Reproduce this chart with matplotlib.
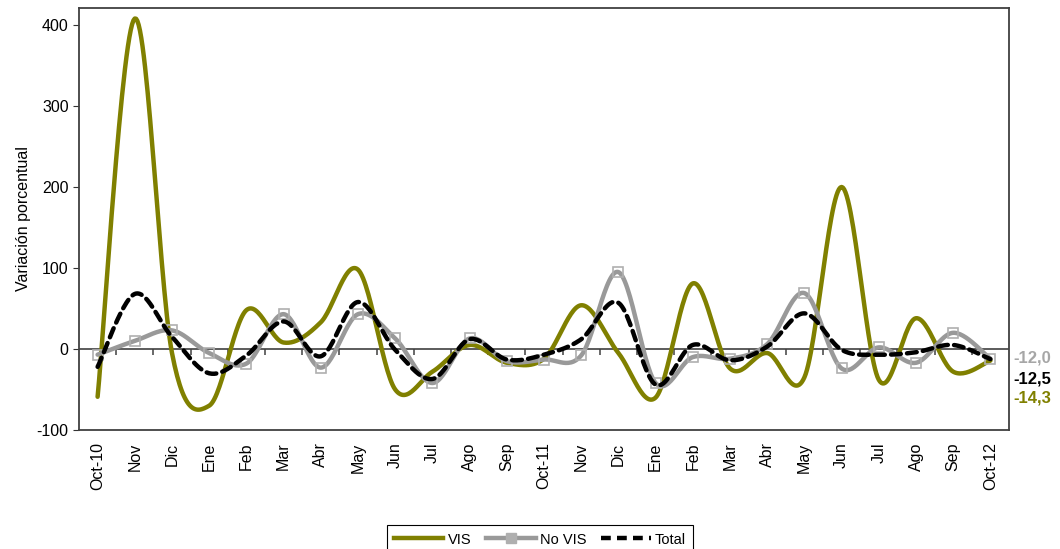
import numpy as np
import matplotlib
matplotlib.use("Agg")
import matplotlib.pyplot as plt
from matplotlib.lines import Line2D

plt.rcParams['font.family'] = ['Liberation Sans', 'DejaVu Sans']
plt.rcParams['axes.unicode_minus'] = False

# months Oct-10 .. Oct-12
meses = ['Oct-10', 'Nov', 'Dic', 'Ene', 'Feb', 'Mar', 'Abr', 'May', 'Jun', 'Jul', 'Ago', 'Sep',
         'Oct-11', 'Nov', 'Dic', 'Ene', 'Feb', 'Mar', 'Abr', 'May', 'Jun', 'Jul', 'Ago', 'Sep',
         'Oct-12']

vis = [-59, 408, -5, -70, 48, 8, 33, 98, -50, -28, 5, -17,
       -12, 54, -5, -60, 81, -24, -5, -35, 200, -38, 38, -28,
       -14.3]
no_vis = [-7, 10, 23, -5, -18, 43, -23, 43, 13, -42, 13, -15,
          -13, -8, 95, -42, -10, -12, 6, 69, -24, 2, -17, 20,
          -12.0]
total = [-22, 68, 15, -30, -8, 34, -9, 58, -1, -37, 12, -13,
         -7, 12, 57, -44, 5, -14, 3, 44, -1, -7, -4, 5,
         -12.5]


def suavizar(y, n=30):
    # Excel-like smoothed line: cubic Bezier through points, tension 1/6
    y = np.asarray(y, dtype=float)
    x = np.arange(len(y), dtype=float)
    pts = np.column_stack([x, y])
    out = []
    for i in range(len(pts) - 1):
        p0 = pts[i - 1] if i > 0 else pts[i]
        p1 = pts[i]
        p2 = pts[i + 1]
        p3 = pts[i + 2] if i + 2 < len(pts) else pts[i + 1]
        c1 = p1 + (p2 - p0) / 6
        c2 = p2 - (p3 - p1) / 6
        t = np.linspace(0, 1, n)[:, None]
        seg = ((1 - t) ** 3) * p1 + 3 * ((1 - t) ** 2) * t * c1 + 3 * (1 - t) * t ** 2 * c2 + t ** 3 * p2
        out.append(seg if i == 0 else seg[1:])
    seg = np.vstack(out)
    return seg[:, 0], seg[:, 1]


fig = plt.figure(figsize=(10.6, 5.49), dpi=100)
ax = fig.add_axes([79 / 1060, 1 - 430 / 549, 930 / 1060, 422 / 549])

x = np.arange(len(meses))
olivo = '#808000'
gris = '#999999'

xs, ys = suavizar(vis)
ax.plot(xs, ys, color=olivo, lw=3.2, solid_capstyle='round', zorder=3)

xs, ys = suavizar(no_vis)
ax.plot(xs, ys, color=gris, lw=3.2, solid_capstyle='round', zorder=4)
ax.plot(x, no_vis, ls='none', marker='s', ms=7, mfc='none', mec='#AFAFAF', mew=1.2, zorder=5)

xs, ys = suavizar(total)
ax.plot(xs, ys, color='black', lw=3.2, ls=(0, (2.2, 1.4)), dash_capstyle='round', zorder=6)

ax.set_xlim(-0.5, len(meses) - 0.5)
ax.set_ylim(-100, 421)
ax.set_yticks([-100, 0, 100, 200, 300, 400])
ax.tick_params(axis='y', direction='out', length=4, labelsize=11.5, colors='#333333', labelcolor='black')
ax.set_xticks(x)
ax.set_xticklabels(meses, rotation=90, fontsize=11.5)
ax.tick_params(axis='x', length=0, pad=9)
ax.set_ylabel('Variación porcentual', fontsize=11.5)

for s in ax.spines.values():
    s.set_color('#404040')
    s.set_linewidth(1.3)

# category axis crossing at zero
ax.axhline(0, color='#404040', lw=1.2, zorder=2)
sec = ax.secondary_xaxis(100 / 521)
sec.spines['bottom'].set_visible(False)
sec.set_xticks(np.arange(0.5, len(meses) - 1, 1.0))
sec.set_xticklabels([])
sec.tick_params(axis='x', direction='out', length=4, width=1.1, colors='#404040')

# last values on the right
ult = [('-12,0', '#A6A6A6', 358), ('-12,5', 'black', 379), ('-14,3', olivo, 398)]
for txt, c, ypix in ult:
    fig.text(1013 / 1060, 1 - ypix / 549, txt, color=c, fontsize=12, fontweight='bold', va='center', ha='left')

h = [Line2D([], [], color=olivo, lw=3.2),
     Line2D([], [], color=gris, lw=3.2, marker='s', ms=7, mfc='#AFAFAF', mec='#AFAFAF'),
     Line2D([], [], color='black', lw=3.2, ls=(0, (2.2, 1.4)))]
leg = fig.legend(h, ['VIS', 'No VIS', 'Total'], loc='upper center', bbox_to_anchor=(540 / 1060, 1 - 518 / 549),
                 ncol=3, fontsize=10.5, frameon=True, fancybox=False, edgecolor='black', framealpha=1,
                 handlelength=3.4, columnspacing=1.0, handletextpad=0.3, borderpad=0.5)
leg.get_frame().set_linewidth(0.8)

fig.savefig('out.png', dpi=100)
